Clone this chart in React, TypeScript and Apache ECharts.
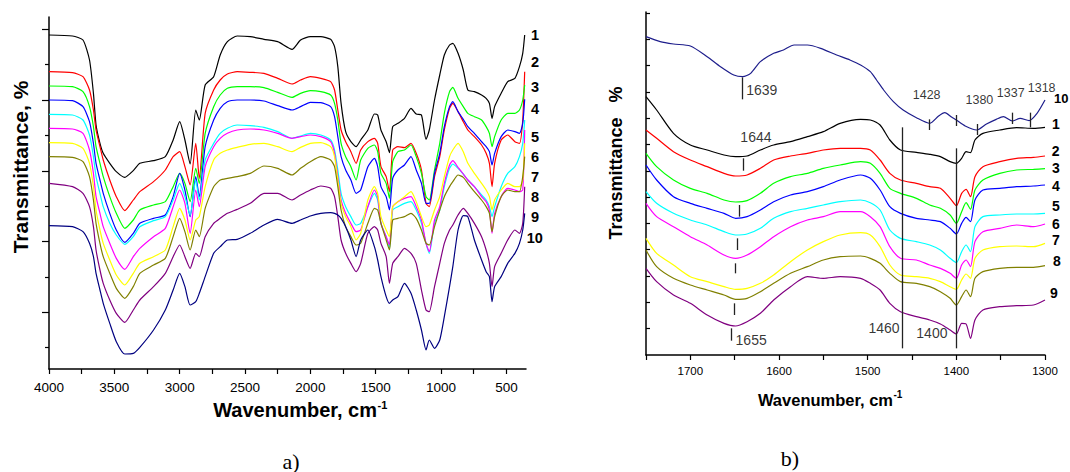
import React, { useEffect, useRef } from "react";
import * as echarts from "echarts";

// ---------- Panel a) : full spectra, 4000–350 cm-1 ----------
const LEFT_WN = [4000, 3820, 3740, 3690, 3660, 3640, 3610, 3585, 3535, 3485, 3420, 3355, 3305, 3200, 3110, 3050, 3000, 2960, 2920, 2877, 2850, 2805,
  2740, 2690, 2635, 2560, 2460, 2355, 2250, 2140, 2075, 2000, 1920, 1845, 1815, 1790, 1765, 1730, 1690, 1650,
  1615, 1560, 1510, 1485, 1460, 1420, 1395, 1370, 1330, 1280, 1230, 1190, 1150, 1115, 1090, 1050, 1010, 975, 935, 910,
  870, 830, 795, 745, 690, 655, 630, 610, 590, 540, 490, 435, 400, 375, 360];

const A1 = [93.8, 93.5, 92.3, 86.3, 76.3, 66.8, 61.3, 58.3, 55.3, 52.8, 51.1, 53.1, 55.3, 56.1, 57.3, 62.3, 67.8, 62.3, 55.1, 71.3, 68.3, 78.8,
  81.3, 87.8, 91.8, 93.5, 93.3, 92.5, 91.8, 89.5, 92.3, 93.3, 93.3, 92.5, 90.3, 84.3, 73.3, 64.8, 61.8, 60.3,
  62.3, 65.3, 70.1, 69.8, 65.3, 61.8, 58.5, 66.3, 67.3, 68.8, 71.8, 70.1, 69.8, 62.5, 65.3, 74.3, 81.8, 87.8, 90.8, 91.3,
  88.3, 83.3, 77.3, 76.8, 75.8, 74.8, 73.3, 68.8, 72.3, 76.3, 79.8, 80.8, 84.3, 88.3, 93.8];
const A2 = [82.8, 82.5, 81.3, 77.3, 71.3, 65.3, 60.3, 56.3, 50.3, 45.3, 41.1, 44.3, 46.8, 49.8, 53.3, 57.3, 58.8, 54.3, 48.8, 61.3, 50.8, 70.3,
  77.3, 80.3, 82.1, 82.8, 82.6, 82.3, 80.8, 79.1, 80.3, 81.3, 80.8, 79.8, 77.3, 71.3, 65.3, 61.8, 58.8, 55.3,
  59.3, 61.8, 62.8, 61.3, 54.3, 51.3, 46.8, 59.3, 60.3, 60.0, 61.3, 58.3, 53.3, 43.3, 42.3, 51.3, 57.3, 65.3, 71.8, 73.3,
  70.8, 67.8, 65.3, 63.3, 60.8, 58.3, 55.3, 48.3, 55.3, 62.3, 63.8, 61.8, 61.3, 68.3, 82.8];
const A3 = [78.5, 78.3, 76.8, 72.3, 66.3, 60.3, 55.3, 51.3, 45.3, 40.3, 35.8, 38.3, 41.3, 42.8, 43.8, 48.3, 52.3, 49.3, 43.8, 53.8, 49.3, 64.3,
  72.3, 75.8, 77.8, 78.3, 78.3, 78.0, 76.6, 75.1, 76.3, 77.1, 76.8, 75.8, 73.3, 68.3, 61.3, 57.3, 54.3, 50.3,
  56.3, 59.8, 60.8, 58.8, 52.3, 49.3, 44.8, 55.8, 58.8, 59.3, 60.8, 57.3, 52.3, 45.3, 44.3, 53.3, 61.3, 70.3, 76.8, 78.1,
  74.8, 72.3, 70.3, 69.3, 68.3, 66.3, 64.3, 60.3, 63.3, 68.3, 70.3, 70.3, 71.3, 74.3, 78.8];
const A4 = [74.3, 74.1, 72.3, 67.8, 61.3, 55.3, 50.3, 46.3, 40.3, 35.3, 31.6, 34.3, 37.3, 38.8, 39.8, 45.3, 52.3, 47.3, 39.3, 51.3, 45.3, 60.3,
  68.3, 71.8, 73.8, 74.3, 74.3, 74.0, 72.6, 71.3, 72.3, 73.6, 73.5, 72.3, 69.3, 63.3, 57.3, 53.3, 50.3, 46.3,
  47.3, 54.3, 56.8, 54.3, 48.3, 45.3, 41.3, 50.8, 53.3, 54.8, 57.3, 53.3, 49.3, 43.3, 43.3, 52.3, 58.3, 66.3, 72.3, 73.8,
  70.8, 68.5, 66.3, 64.3, 61.8, 60.3, 58.8, 54.8, 58.3, 63.3, 65.3, 64.8, 64.3, 67.3, 74.5];
const A5 = [70.0, 69.8, 68.3, 63.8, 57.3, 51.3, 46.3, 42.3, 37.3, 33.8, 31.0, 33.3, 36.3, 38.1, 39.3, 44.3, 49.3, 45.3, 39.8, 50.3, 44.3, 56.3,
  61.3, 64.3, 65.8, 66.8, 66.6, 66.1, 64.8, 62.8, 63.5, 64.3, 63.8, 62.3, 59.3, 53.3, 46.3, 42.3, 39.3, 36.8,
  37.3, 42.3, 46.3, 44.3, 37.3, 33.3, 29.8, 41.3, 42.3, 43.3, 43.8, 41.3, 37.3, 31.3, 28.3, 37.3, 41.3, 48.3, 53.8, 55.1,
  53.8, 52.1, 50.3, 48.3, 45.8, 44.3, 42.3, 39.3, 42.3, 48.3, 52.3, 54.3, 57.3, 61.3, 68.3];
const A6 = [65.8, 65.6, 64.3, 59.3, 52.3, 45.3, 40.3, 36.3, 31.3, 26.8, 23.5, 27.3, 29.8, 33.3, 35.8, 42.3, 47.3, 43.3, 34.3, 47.3, 42.3, 54.3,
  60.3, 62.8, 64.3, 65.3, 65.6, 65.3, 64.3, 62.8, 63.3, 63.8, 63.3, 61.8, 58.3, 51.3, 44.3, 40.3, 37.3, 34.8,
  35.3, 42.3, 47.3, 45.3, 37.3, 33.3, 30.8, 42.3, 43.8, 44.8, 45.3, 42.3, 38.3, 31.3, 28.8, 38.3, 42.3, 49.3, 54.8, 56.1,
  54.1, 52.1, 50.3, 48.3, 45.3, 43.8, 41.3, 34.3, 40.3, 45.3, 47.8, 47.3, 46.8, 47.3, 65.3];
const A7 = [61.5, 61.3, 59.8, 55.3, 48.3, 41.3, 35.3, 31.3, 26.3, 21.8, 18.8, 22.3, 25.3, 27.3, 29.3, 36.3, 41.8, 38.3, 32.3, 38.3, 39.3, 48.3,
  56.3, 58.3, 59.3, 60.1, 61.0, 61.3, 60.3, 58.8, 60.1, 61.3, 61.5, 60.3, 57.3, 50.3, 43.3, 39.3, 36.3, 32.3,
  34.3, 44.3, 48.3, 46.3, 39.3, 35.3, 33.3, 42.3, 43.8, 45.3, 46.8, 43.8, 39.3, 36.3, 36.8, 41.3, 45.3, 51.3, 57.3, 59.3,
  61.3, 58.8, 55.3, 52.3, 49.3, 47.3, 45.3, 41.3, 44.3, 47.3, 49.3, 48.3, 48.3, 50.3, 61.3];
const A8 = [57.3, 57.1, 55.8, 51.3, 44.3, 37.3, 31.3, 27.3, 22.3, 17.8, 14.8, 18.3, 22.3, 24.8, 26.8, 33.3, 38.8, 34.8, 29.3, 35.3, 33.3, 41.8,
  48.3, 50.3, 50.8, 51.3, 52.3, 54.5, 53.8, 51.8, 53.8, 55.8, 57.3, 56.3, 54.3, 48.3, 41.3, 36.3, 33.3, 30.8,
  31.3, 37.3, 41.8, 41.3, 37.3, 32.3, 29.3, 38.3, 38.8, 39.3, 40.3, 38.8, 35.3, 31.3, 30.8, 36.3, 41.3, 45.3, 48.3, 49.8,
  51.8, 51.1, 49.3, 46.8, 44.3, 42.3, 40.3, 34.8, 39.3, 45.3, 47.3, 46.8, 46.8, 51.3, 57.3];
const A9 = [49.3, 48.3, 46.3, 42.3, 36.3, 29.3, 23.3, 19.3, 14.3, 10.3, 7.6, 11.3, 14.3, 18.3, 22.3, 27.3, 30.8, 27.3, 23.8, 28.3, 27.3, 33.3,
  37.3, 38.8, 40.3, 41.5, 43.3, 46.3, 46.3, 44.3, 45.8, 47.3, 48.5, 47.8, 45.3, 39.3, 32.3, 28.3, 25.3, 22.8,
  25.3, 34.3, 36.3, 35.3, 31.3, 27.3, 19.3, 25.3, 27.3, 29.8, 28.3, 25.3, 17.3, 11.3, 10.8, 18.3, 25.3, 31.3, 35.3, 36.8,
  39.8, 41.8, 40.3, 37.3, 33.3, 29.3, 25.3, 18.3, 24.3, 28.3, 32.3, 35.3, 34.3, 37.3, 48.3];
const A10 = [36.6, 36.3, 34.8, 31.3, 27.3, 22.3, 17.3, 13.3, 7.3, 1.8, -1.9, -1.7, 0.1, 5.3, 11.3, 17.3, 22.3, 18.3, 12.8, 13.8, 16.3, 21.3,
  28.3, 30.3, 32.3, 32.5, 34.3, 36.8, 38.5, 37.3, 38.3, 39.5, 40.3, 40.5, 40.3, 39.8, 38.8, 36.3, 32.3, 27.3,
  32.3, 35.3, 30.3, 26.3, 21.3, 15.3, 13.3, 14.3, 15.3, 19.3, 16.3, 11.3, 5.3, -0.7, 2.3, -0.2, 2.3, 9.3, 18.3, 24.3,
  35.3, 39.6, 39.3, 32.3, 26.3, 22.8, 21.3, 13.8, 18.3, 21.3, 25.3, 28.3, 31.3, 35.3, 40.3];

// ---------- Panel b) : 1750–1300 cm-1 ----------
const RIGHT_WN = [1750, 1738, 1719, 1700, 1681, 1662, 1649, 1636, 1621, 1606, 1587, 1568, 1550, 1531, 1508,
  1497, 1486, 1475, 1463, 1445, 1430, 1418, 1407, 1400, 1394, 1389, 1384, 1379, 1370, 1351, 1332, 1313, 1300];
const B1 = [77.5, 73.5, 66.5, 63.0, 61.5, 60.0, 59.5, 59.7, 61.5, 63.0, 64.0, 65.5, 67.0, 69.5, 70.7,
  70.5, 69.0, 64.5, 61.5, 60.8, 60.2, 59.5, 58.0, 57.5, 59.0, 61.0, 60.7, 64.5, 66.5, 67.5, 68.2, 68.0, 68.3];
const B2 = [67.5, 65.0, 61.0, 58.5, 56.5, 54.5, 53.7, 54.0, 56.0, 58.5, 59.7, 60.5, 61.5, 62.0, 62.0,
  61.5, 58.5, 54.5, 52.5, 51.5, 50.5, 50.0, 47.0, 44.8, 48.5, 49.7, 47.5, 53.5, 56.5, 58.0, 59.0, 59.3, 59.7];
const B3 = [60.5, 56.5, 52.5, 50.0, 48.5, 46.5, 45.9, 46.3, 48.5, 51.5, 53.5, 54.5, 56.0, 57.0, 58.0,
  57.5, 54.5, 50.0, 48.5, 47.0, 45.0, 44.0, 42.0, 39.5, 43.0, 45.7, 43.7, 49.5, 52.5, 54.5, 55.5, 55.7, 55.9];
const B4 = [57.0, 52.5, 47.5, 45.5, 44.0, 42.5, 41.0, 41.5, 43.5, 46.0, 48.0, 49.0, 50.5, 52.5, 54.0,
  53.0, 49.5, 44.5, 42.5, 41.0, 40.5, 40.0, 38.0, 36.3, 39.5, 41.3, 40.0, 46.5, 49.5, 50.0, 50.5, 50.7, 51.0];
const B5 = [49.0, 45.5, 42.5, 40.5, 39.0, 37.0, 36.0, 36.3, 38.0, 41.0, 43.0, 44.0, 45.0, 46.0, 46.5,
  45.7, 43.5, 37.5, 35.0, 34.0, 33.0, 31.5, 29.0, 27.7, 31.0, 33.0, 31.0, 38.5, 41.5, 42.0, 42.3, 42.3, 42.5];
const B6 = [45.5, 41.5, 38.5, 35.5, 33.0, 30.0, 29.0, 30.0, 32.5, 35.5, 38.5, 40.5, 41.5, 43.0, 43.0,
  41.5, 38.5, 32.5, 29.0, 28.5, 27.0, 26.0, 24.5, 23.0, 27.0, 28.5, 26.5, 34.0, 37.0, 38.0, 39.0, 38.5, 39.3];
const B7 = [35.0, 30.5, 27.0, 23.5, 22.0, 20.5, 19.7, 20.0, 21.5, 24.0, 28.0, 31.5, 34.0, 36.0, 36.7,
  36.0, 32.5, 27.0, 24.0, 23.5, 23.0, 22.0, 20.5, 19.7, 22.5, 24.3, 23.0, 29.0, 31.5, 32.5, 32.7, 32.5, 33.5];
const B8 = [31.5, 26.5, 23.0, 21.0, 19.5, 18.0, 16.7, 17.0, 19.0, 21.5, 24.5, 26.5, 28.5, 29.5, 29.7,
  29.0, 27.5, 24.5, 22.0, 21.5, 20.5, 19.0, 17.0, 15.0, 17.5, 19.5, 17.5, 23.0, 25.0, 26.0, 26.3, 26.3, 26.8];
const B9 = [26.0, 22.0, 18.0, 15.5, 12.0, 9.5, 8.7, 10.0, 12.5, 16.5, 20.5, 23.5, 23.0, 23.5, 23.0,
  21.5, 19.5, 15.5, 13.0, 11.5, 10.5, 9.3, 7.5, 6.3, 9.5, 9.3, 5.0, 10.5, 13.5, 14.5, 14.8, 15.0, 16.5];
const B10_WN = [1750, 1734, 1719, 1700, 1681, 1666, 1651, 1641, 1632, 1621, 1606, 1595, 1583, 1568, 1553, 1535, 1520, 1508,
  1497, 1490, 1482, 1471, 1460, 1445, 1430, 1420, 1413, 1405, 1400, 1390, 1377, 1366, 1355, 1347, 1337, 1328, 1318, 1309, 1300];
const B10 = [95.5, 94.0, 93.3, 92.7, 89.5, 86.5, 84.0, 83.5, 84.5, 88.0, 90.5, 91.5, 93.0, 93.0, 92.0, 90.0, 88.5, 87.0,
  85.0, 82.5, 79.5, 76.0, 73.5, 71.2, 69.5, 71.7, 72.7, 71.3, 70.5, 68.7, 67.5, 69.3, 70.7, 71.5, 70.2, 71.0, 70.3, 72.5, 76.5];

// peak marker segments [wavenumber, from, to] and labels [text, wavenumber, value, align, size]
const B_TICKS = [[1641, 76.7, 83.3], [1640, 55.3, 59.0], [1644.4, 41.5, 45.0], [1646.6, 31.5, 35.0], [1649, 24.5, 27.5],
  [1650.4, 12.0, 15.5], [1654, 4.3, 8.0], [1430, 67.5, 70.7], [1400, 68.7, 72.0], [1376, 66.0, 69.3], [1336.5, 69.3, 72.7], [1317, 68.3, 72.7]];
const B_LINES = [[1461, 2.0, 68.3], [1400.4, 2.0, 62.0]];
const B_PEAK_LABELS: [string, number, number, string, number][] = [
  ["1639", 1637, 79.5, "left", 14], ["1644", 1626, 65.4, "center", 14], ["1655", 1649, 4.5, "left", 14],
  ["1460", 1464, 8.0, "right", 14], ["1400", 1410, 6.5, "right", 14], ["1428", 1433.5, 78.0, "center", 12.5],
  ["1380", 1374, 76.5, "center", 12.5], ["1337", 1338.7, 78.5, "center", 12.5], ["1318", 1303.8, 80.0, "center", 12.5]];

const CURVE_NAMES = ["1", "2", "3", "4", "5", "6", "7", "8", "9", "10"];
const COLORS_A = ["#000000", "#ff0000", "#00ff00", "#0000ff", "#00ffff", "#ff00ff", "#ffff00", "#808000", "#800080", "#000080"];
const COLORS_B = ["#000000", "#ff0000", "#00ff00", "#0000ff", "#00ffff", "#ff00ff", "#ffff00", "#808000", "#800080", "#1e1e8c"];

const LEFT_X_LABELS = [4000, 3500, 3000, 2500, 2000, 1500, 1000, 500];
const LEFT_X_TICKS = [4000, 3750, 3500, 3250, 3000, 2750, 2500, 2250, 2000, 1750, 1500, 1250, 1000, 750, 500];
const LEFT_Y_LONG = [10.61, 31.83, 53.05, 74.27, 95.49];
const LEFT_Y_SHORT = [0, 21.22, 42.44, 63.66, 84.88];
const RIGHT_Y_TICKS = [7.9, 15.8, 23.7, 31.6, 39.5, 47.3, 55.2, 63.1, 71.0, 78.9, 86.8, 94.7, 102.6];

const SANS = '"Liberation Sans", Arial, Helvetica, sans-serif';
const SERIF = '"Liberation Serif", "Times New Roman", serif';

const A_SERIES = [A1, A2, A3, A4, A5, A6, A7, A8, A9, A10];
const B_SERIES = [B1, B2, B3, B4, B5, B6, B7, B8, B9];

function txt(text: string, x: number, y: number, size: number, opts: any = {}) {
  return {
    type: "text", x, y, rotation: opts.rotation || 0, silent: true,
    style: {
      text, fill: "#000", fontSize: size, fontWeight: opts.weight || "normal", fontFamily: opts.family || SANS,
      align: opts.align || "left", textAlign: opts.align || "left",
      verticalAlign: "middle", textVerticalAlign: "middle",
    },
  };
}

function buildOption() {
  const axisLineStyle = { color: "#000", width: 1.5 };
  const tickStyle = { color: "#000", width: 1.2 };
  const series: any[] = [];
  A_SERIES.forEach((arr, i) => {
    series.push({
      name: "a" + CURVE_NAMES[i], type: "line", xAxisIndex: 0, yAxisIndex: 0,
      data: LEFT_WN.map((w, j) => [w, arr[j]]), symbol: "none", smooth: 0.2, silent: true,
      lineStyle: { color: COLORS_A[i], width: 1.2 }, z: 3,
    });
  });
  B_SERIES.forEach((arr, i) => {
    series.push({
      name: "b" + CURVE_NAMES[i], type: "line", xAxisIndex: 1, yAxisIndex: 2,
      data: RIGHT_WN.map((w, j) => [w, arr[j]]), symbol: "none", smooth: 0.25, silent: true,
      lineStyle: { color: COLORS_B[i], width: 1.2 }, z: 3,
    });
  });
  series.push({
    name: "b10", type: "line", xAxisIndex: 1, yAxisIndex: 2,
    data: B10_WN.map((w, j) => [w, B10[j]]), symbol: "none", smooth: 0.25, silent: true,
    lineStyle: { color: COLORS_B[9], width: 1.2 }, z: 3,
    markLine: {
      silent: true, symbol: ["none", "none"], label: { show: false },
      lineStyle: { color: "#222", width: 1.3, type: "solid" },
      data: [...B_TICKS, ...B_LINES].map(([w, a, b]) => [{ coord: [w, a] }, { coord: [w, b] }]),
    },
  });
  series.push({
    name: "peaks", type: "scatter", xAxisIndex: 1, yAxisIndex: 2, symbolSize: 0, silent: true,
    itemStyle: { color: "rgba(0,0,0,0)" },
    label: { show: true, position: [0, 0], formatter: "{b}", color: "#000", fontFamily: SANS, verticalAlign: "middle" },
    data: B_PEAK_LABELS.map(([t, w, v, al, sz]) => ({ name: t, value: [w, v], label: { align: al, fontSize: sz } })),
    z: 5,
  });

  const leftEndY = [35, 61.7, 86.7, 109.3, 136.7, 156.7, 176.7, 196.7, 216.7, 238.3];
  const rightEnd = [[1052, 124], [1051.7, 151], [1052, 168.3], [1052, 185.7], [1052, 205.7], [1052, 224.3], [1052, 240], [1053, 260.7], [1050, 293.3], [1054, 98.3]];

  const graphic: any[] = [
    txt("Transmittance, %", 20, 167, 21, { weight: "bold", align: "center", rotation: Math.PI / 2 }),
    txt("Wavenumber, cm", 377, 410, 20, { weight: "bold", align: "right" }),
    txt("-1", 377.5, 404.5, 11, { weight: "bold" }),
    txt("a)", 291, 461, 22, { family: SERIF, align: "center" }),
    txt("Transmittance\u00a0\u00a0\u00a0%", 616, 163, 18, { weight: "bold", align: "center", rotation: Math.PI / 2 }),
    txt("Wavenumber, cm", 893, 400, 16.5, { weight: "bold", align: "right" }),
    txt("-1", 893.5, 394.5, 10, { weight: "bold" }),
    txt("b)", 790, 458, 22, { family: SERIF, align: "center" }),
  ];
  CURVE_NAMES.forEach((n, i) => {
    graphic.push(txt(n, i === 9 ? 526.7 : 531, leftEndY[i], 14.5, { weight: "bold" }));
    graphic.push(txt(n, rightEnd[i][0], rightEnd[i][1], i === 9 ? 13 : 14, { weight: "bold" }));
  });

  return {
    animation: false,
    backgroundColor: "#fff",
    grid: [
      { left: 49, top: 17, width: 477, height: 352 },
      { left: 646, top: 12, width: 399, height: 343 },
    ],
    xAxis: [
      {
        type: "value", gridIndex: 0, min: 350, max: 4000, inverse: true, position: "bottom",
        axisLine: { onZero: false, lineStyle: axisLineStyle },
        axisTick: { customValues: LEFT_X_TICKS, length: 5, lineStyle: tickStyle },
        axisLabel: {
          customValues: LEFT_X_LABELS, color: "#000", fontSize: 13.5, fontFamily: SANS, margin: 11,
          formatter: (v: number) => String(v),
        },
        splitLine: { show: false },
      },
      {
        type: "value", gridIndex: 1, min: 1300, max: 1750, interval: 50, inverse: true, position: "bottom",
        axisLine: { onZero: false, lineStyle: axisLineStyle },
        axisTick: { length: 5, lineStyle: tickStyle },
        axisLabel: {
          color: "#000", fontSize: 11.5, fontFamily: SANS, margin: 10,
          formatter: (v: number) => (v % 100 === 0 ? String(v) : ""),
        },
        splitLine: { show: false },
      },
    ],
    yAxis: [
      {
        type: "value", gridIndex: 0, min: -6.4, max: 99.2, position: "left",
        axisLine: { show: true, onZero: false, lineStyle: axisLineStyle },
        axisTick: { show: true, customValues: LEFT_Y_LONG, length: 7, lineStyle: tickStyle },
        axisLabel: { show: false }, splitLine: { show: false },
      },
      {
        type: "value", gridIndex: 0, min: -6.4, max: 99.2, position: "left", offset: 0,
        axisLine: { show: false, onZero: false },
        axisTick: { show: true, customValues: LEFT_Y_SHORT, length: 4, lineStyle: tickStyle },
        axisLabel: { show: false }, splitLine: { show: false },
      },
      {
        type: "value", gridIndex: 1, min: 0, max: 102.9, position: "left",
        axisLine: { show: true, onZero: false, lineStyle: axisLineStyle },
        axisTick: { show: true, inside: true, customValues: RIGHT_Y_TICKS, length: 4, lineStyle: tickStyle },
        axisLabel: { show: false }, splitLine: { show: false },
      },
    ],
    series,
    graphic,
  };
}

export default function App() {
  const ref = useRef<HTMLDivElement>(null);
  useEffect(() => {
    if (!ref.current) return;
    const chart = echarts.init(ref.current, null, { renderer: "svg" });
    chart.setOption(buildOption() as any);
    return () => chart.dispose();
  }, []);
  return (
    <div
      ref={ref}
      style={{ position: "absolute", left: 0, top: 0, width: 1070, height: 472, background: "#fff" }}
    />
  );
}
